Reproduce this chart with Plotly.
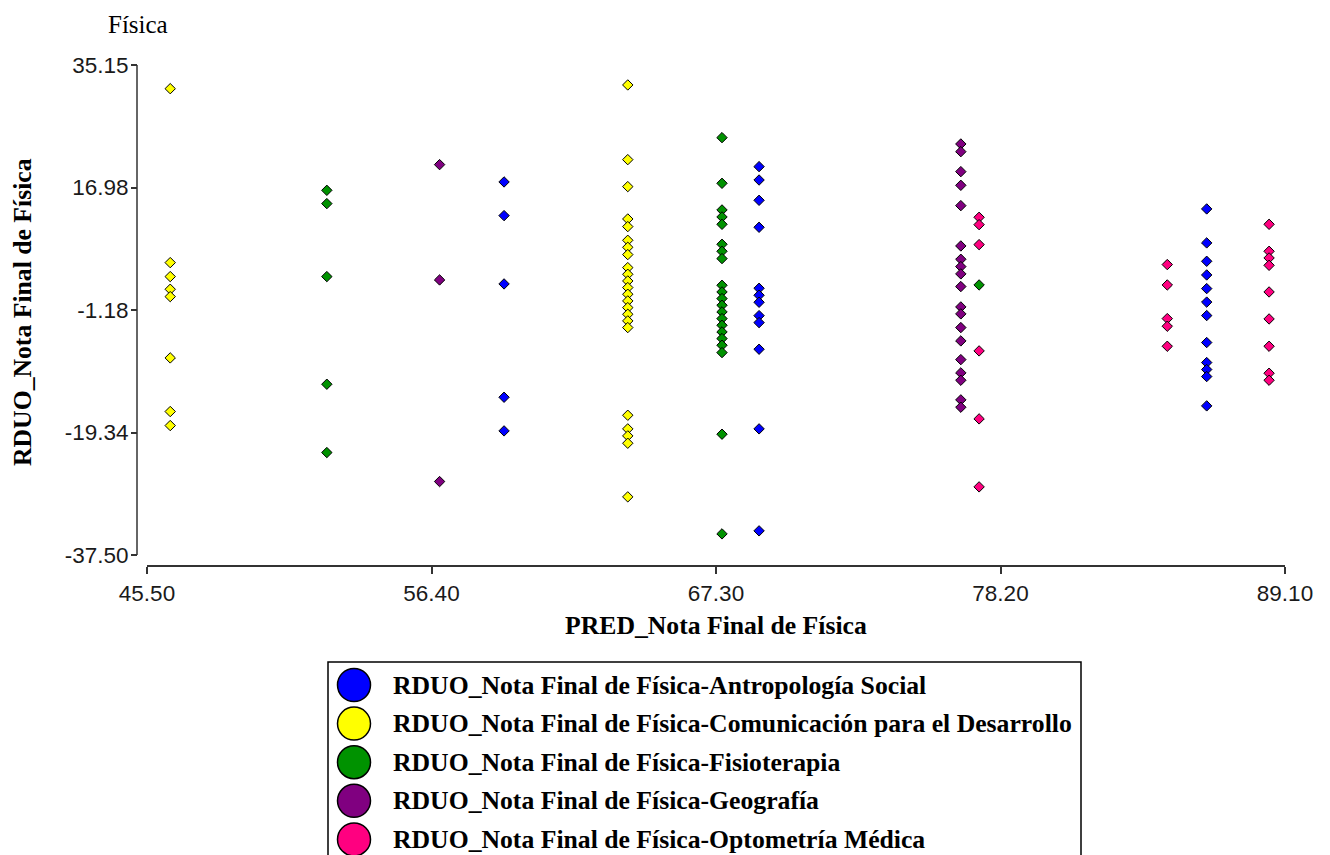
import plotly.graph_objects as go

# ---- data ----
series_names = [
    "RDUO_Nota Final de Física-Antropología Social",
    "RDUO_Nota Final de Física-Comunicación para el Desarrollo",
    "RDUO_Nota Final de Física-Fisioterapia",
    "RDUO_Nota Final de Física-Geografía",
    "RDUO_Nota Final de Física-Optometría Médica",
]
series_colors = ["#0000ff", "#ffff00", "#009200", "#800080", "#ff0080"]

antro_cols = [59.18, 68.95, 86.10]
antro_vals = [
    [17.81, 12.82, 2.69, -14.11, -19.10],
    [20.08, 18.10, 15.09, 11.09, 2.05, 1.01, -0.03, -2.01, -3.04, -6.99, -18.80, -33.92],
    [13.81, 8.77, 6.05, 4.02, 2.00, 0.00, -2.00, -6.00, -8.97, -10.00, -11.04, -15.39],
]
comun_cols = [46.39, 63.92]
comun_vals = [
    [31.64, 5.85, 3.78, 1.90, 0.81, -8.28, -16.23, -18.31],
    [32.19, 21.12, 17.12, 12.32, 11.19, 9.16, 8.12, 7.04, 5.11, 4.12, 3.13, 2.15, 1.16,
     0.17, -0.82, -1.81, -2.79, -3.78, -16.78, -18.80, -19.84, -20.93, -28.88],
]
fisio_cols = [52.39, 67.53, 77.38]
fisio_vals = [
    [16.57, 14.60, 3.78, -12.18, -22.31],
    [24.38, 17.61, 13.66, 12.62, 11.53, 8.57, 7.53, 6.45, 2.49, 1.50, 0.52, -0.47, -1.46,
     -2.45, -3.44, -4.43, -5.41, -6.40, -7.49, -19.59, -34.37],
    [2.54],
]
geo_cols = [56.71, 76.68]
geo_vals = [
    [20.38, 3.28, -26.61],
    [23.44, 22.30, 19.34, 17.31, 14.30, 8.32, 6.35, 5.26, 4.18, 2.30, -0.72, -1.75, -3.78,
     -5.76, -8.53, -10.50, -11.59, -14.50, -15.59],
]
opto_cols = [77.38, 84.59, 88.49]
opto_vals = [
    [12.57, 11.48, 8.52, -7.24, -17.32, -27.40],
    [5.56, 2.54, -2.45, -3.58, -6.55],
    [11.53, 7.53, 6.54, 5.45, 1.50, -2.50, -6.55, -10.55, -11.59],
]

x_ticks = [45.50, 56.40, 67.30, 78.20, 89.10]
y_ticks = [-37.50, -19.34, -1.18, 16.98, 35.15]
x_title = "PRED_Nota Final de Física"
y_title = "RDUO_Nota Final de Física"
chart_title = "Física"

all_series = [(antro_cols, antro_vals), (comun_cols, comun_vals), (fisio_cols, fisio_vals),
              (geo_cols, geo_vals), (opto_cols, opto_vals)]

# ---- layout geometry (pixels) ----
W, H = 1330, 855
L, R = 147, 1285          # plot area left/right
T, B = 65, 565            # plot area top/bottom (x-axis line at B)
y_bottom_tick_px = 555    # where -37.50 sits
y_lo, y_hi = y_ticks[0], y_ticks[-1]
ppu = (y_bottom_tick_px - T) / (y_hi - y_lo)
y_range = [y_lo - (B - y_bottom_tick_px) / ppu, y_hi]

def px(xp):
    return (xp - L) / (R - L)

def py(yp):
    return (B - yp) / (B - T)

fig = go.Figure()
for (cols, vals), name, col in zip(all_series, series_names, series_colors):
    xs, ys = [], []
    for cx, vs in zip(cols, vals):
        for v in vs:
            xs.append(cx)
            ys.append(v)
    fig.add_trace(go.Scatter(
        x=xs, y=ys, mode="markers", name=name, showlegend=False,
        marker=dict(symbol="diamond", size=8, color=col, line=dict(color="#000000", width=1)),
        cliponaxis=False,
    ))

tick_font = dict(family="Liberation Sans, Arial, sans-serif", size=22.5, color="#1a1a1a")
title_font = dict(family="Liberation Serif, Times New Roman, serif", size=25.7, color="#000000")

fig.update_layout(
    width=W, height=H,
    margin=dict(l=L, r=W - R, t=T, b=H - B, pad=0),
    paper_bgcolor="white", plot_bgcolor="white",
    showlegend=False,
    xaxis=dict(
        range=[x_ticks[0], x_ticks[-1]], tickvals=x_ticks,
        ticktext=[f"{v:.2f}" for v in x_ticks],
        showgrid=False, zeroline=False, showline=True, linecolor="#333333", linewidth=1.5,
        ticks="outside", ticklen=7, tickcolor="#333333", tickwidth=1.5,
        tickfont=tick_font,
    ),
    yaxis=dict(
        range=y_range, tickvals=y_ticks,
        ticktext=[f"{v:.2f}" for v in y_ticks],
        showgrid=False, zeroline=False, showline=False,
        ticks="outside", ticklen=6, tickcolor="#333333", tickwidth=1.5,
        tickfont=tick_font, anchor="free", position=0, shift=-10,
        ticklabelstandoff=-2,
    ),
)

# y-axis line (offset from the plot area like the original)
fig.add_shape(type="line", xref="paper", yref="y", x0=px(L - 10), x1=px(L - 10),
              y0=y_lo, y1=y_hi, line=dict(color="#333333", width=1.5))

# titles
fig.add_annotation(text=chart_title, xref="paper", yref="paper", x=px(106), y=py(25),
                   xanchor="left", yanchor="middle", showarrow=False,
                   font=dict(family="Liberation Serif, Times New Roman, serif", size=25, color="#000"))
fig.add_annotation(text="<b>" + x_title + "</b>", xref="paper", yref="paper", x=px(716), y=py(625),
                   xanchor="center", yanchor="middle", showarrow=False, font=title_font)
fig.add_annotation(text="<b>" + y_title + "</b>", xref="paper", yref="paper", x=px(22), y=py(312),
                   xanchor="center", yanchor="middle", showarrow=False, textangle=-90, font=title_font)

# legend box (drawn by hand so the large circle swatches match)
fig.add_shape(type="rect", xref="paper", yref="paper", x0=px(328), x1=px(1081), y0=py(662), y1=py(870),
              line=dict(color="#000000", width=1.5), fillcolor="white", layer="below")
row0, step, rad = 685, 38.6, 16.5
for i, (name, col) in enumerate(zip(series_names, series_colors)):
    cy = row0 + i * step
    fig.add_shape(type="circle", xref="paper", yref="paper",
                  x0=px(354 - rad), x1=px(354 + rad), y0=py(cy + rad), y1=py(cy - rad),
                  fillcolor=col, line=dict(color="#000000", width=1.5))
    fig.add_annotation(text="<b>" + name + "</b>", xref="paper", yref="paper", x=px(391), y=py(cy),
                       xanchor="left", yanchor="middle", showarrow=False, font=title_font)

fig.write_html("out.html")
